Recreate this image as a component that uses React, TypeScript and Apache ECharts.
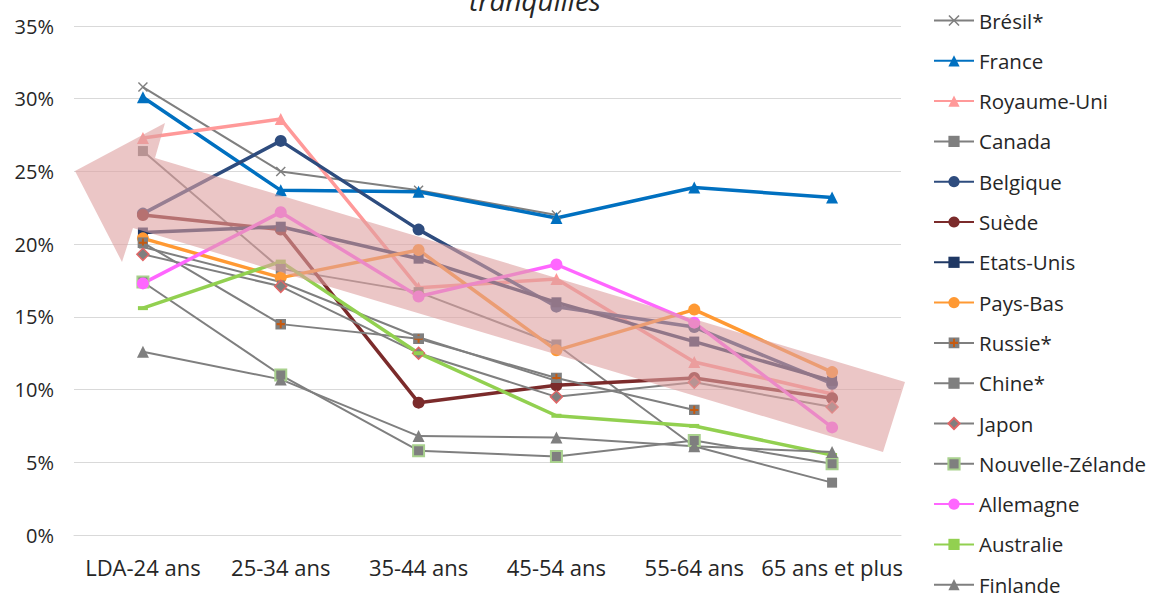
import React, { useEffect, useRef } from "react";
import * as echarts from "echarts";

const categories = ["LDA-24 ans", "25-34 ans", "35-44 ans", "45-54 ans", "55-64 ans", "65 ans et plus"];

const bresil = [30.8, 25.0, 23.7, 22.0, null, null];
const france = [30.1, 23.7, 23.6, 21.8, 23.9, 23.2];
const royaumeUni = [27.3, 28.6, 17.0, 17.6, 11.9, 9.7];
const canada = [26.4, 18.3, 16.7, 13.1, 6.1, 3.6];
const belgique = [22.1, 27.1, 21.0, 15.7, 14.3, 10.4];
const suede = [22.0, 21.0, 9.1, 10.3, 10.8, 9.4];
const etatsUnis = [20.8, 21.2, 19.0, 16.0, 13.3, 10.6];
const paysBas = [20.4, 17.7, 19.6, 12.7, 15.5, 11.2];
const russie = [20.1, 14.5, 13.5, 10.8, 8.6, null];
const chine = [19.8, 17.4, 13.6, 10.6, null, null];
const japon = [19.3, 17.1, 12.5, 9.5, 10.5, 8.8];
const nouvelleZelande = [17.4, 11.0, 5.8, 5.4, 6.5, 4.9];
const allemagne = [17.3, 22.2, 16.4, 18.6, 14.6, 7.4];
const australie = [15.6, 18.8, 12.5, 8.2, 7.5, 5.5];
const finlande = [12.6, 10.7, 6.8, 6.7, 6.1, 5.7];

const yMin = 0;
const yMax = 35;
const yStep = 5;

const titleText = "tranquilles";

// decorative arrow (annotation, in page pixels)
const ARROW_POINTS = [
  [75, 171],
  [165, 123],
  [155, 158],
  [905, 382],
  [883, 452],
  [133, 228],
  [122, 262],
];

const FONT = '"Open Sans", "DejaVu Sans", sans-serif';
const GRAY = "#7F7F7F";

const russieSvg =
  '<svg xmlns="http://www.w3.org/2000/svg" width="12" height="12" viewBox="0 0 12 12">' +
  '<rect x="0" y="0" width="12" height="12" fill="#7F7F7F"/>' +
  '<path d="M6 1.5V10.5M1.5 6H10.5" stroke="#C55A11" stroke-width="2.2"/></svg>';
const russieSymbol = "image://data:image/svg+xml;utf8," + encodeURIComponent(russieSvg);
const xSymbol = "path://M1,0 L5,4 L9,0 L10,1 L6,5 L10,9 L9,10 L5,6 L1,10 L0,9 L4,5 L0,1 Z";

type S = {
  name: string;
  data: (number | null)[];
  color: string;
  width: number;
  symbol: string;
  size: number | number[];
  border?: string;
  borderWidth?: number;
};

const seriesDefs: S[] = [
  { name: "Brésil*", data: bresil, color: GRAY, width: 2, symbol: xSymbol, size: 10 },
  { name: "France", data: france, color: "#0070C0", width: 3.5, symbol: "triangle", size: 12 },
  { name: "Royaume-Uni", data: royaumeUni, color: "#FF9999", width: 3.5, symbol: "triangle", size: 12 },
  { name: "Canada", data: canada, color: GRAY, width: 2, symbol: "rect", size: 10 },
  { name: "Belgique", data: belgique, color: "#2E4C7E", width: 3.5, symbol: "circle", size: 12 },
  { name: "Suède", data: suede, color: "#7B2B2B", width: 3.5, symbol: "circle", size: 12 },
  { name: "Etats-Unis", data: etatsUnis, color: "#1F3864", width: 3.5, symbol: "rect", size: 10 },
  { name: "Pays-Bas", data: paysBas, color: "#FF9933", width: 3.5, symbol: "circle", size: 12 },
  { name: "Russie*", data: russie, color: GRAY, width: 2, symbol: russieSymbol, size: 11 },
  { name: "Chine*", data: chine, color: GRAY, width: 2, symbol: "rect", size: [8, 3] },
  { name: "Japon", data: japon, color: GRAY, width: 2, symbol: "diamond", size: 12, border: "#E06666", borderWidth: 1.5 },
  { name: "Nouvelle-Zélande", data: nouvelleZelande, color: GRAY, width: 2, symbol: "rect", size: 11, border: "#A9D18E", borderWidth: 2 },
  { name: "Allemagne", data: allemagne, color: "#FF66FF", width: 3.5, symbol: "circle", size: 12 },
  { name: "Australie", data: australie, color: "#92D050", width: 3.5, symbol: "rect", size: [10, 4] },
  { name: "Finlande", data: finlande, color: GRAY, width: 2, symbol: "triangle", size: 12 },
];

export default function App() {
  const ref = useRef<HTMLDivElement>(null);

  useEffect(() => {
    if (!ref.current) return;
    const chart = echarts.init(ref.current, undefined, { renderer: "svg" });

    const series = seriesDefs.map((s) => ({
      name: s.name,
      type: "line",
      data: s.data,
      symbol: s.symbol,
      symbolSize: s.size,
      showSymbol: true,
      connectNulls: false,
      lineStyle: { color: s.color, width: s.width },
      itemStyle: {
        color: s.color,
        borderColor: s.border || s.color,
        borderWidth: s.borderWidth || 0,
      },
      emphasis: { disabled: true },
    }));

    chart.setOption({
      animation: false,
      backgroundColor: "#ffffff",
      grid: { left: 74, right: 251, top: 26, bottom: 58, containLabel: false },
      xAxis: {
        type: "category",
        data: categories,
        boundaryGap: true,
        axisLine: { show: true, lineStyle: { color: "#D9D9D9", width: 1 } },
        axisTick: { show: false },
        axisLabel: { color: "#262626", fontSize: 22, fontFamily: FONT, margin: 21, interval: 0 },
      },
      yAxis: {
        type: "value",
        min: yMin,
        max: yMax,
        interval: yStep,
        axisLine: { show: false },
        axisTick: { show: false },
        splitLine: { lineStyle: { color: "#D9D9D9", width: 1 } },
        axisLabel: {
          color: "#262626",
          fontSize: 20,
          fontFamily: FONT,
          margin: 20,
          formatter: (v: number) => `${v}%`,
        },
      },
      legend: {
        type: "plain",
        orient: "vertical",
        left: 933,
        top: 10,
        width: 215,
        height: 620,
        padding: 0,
        itemWidth: 40,
        itemHeight: 14,
        itemGap: 19.3,
        textStyle: { color: "#262626", fontSize: 20.5, fontFamily: FONT },
        data: seriesDefs.map((s) => s.name),
      },
      graphic: [
        {
          type: "polygon",
          z: 100,
          silent: true,
          shape: { points: ARROW_POINTS },
          style: { fill: "rgb(221,160,160)", opacity: 0.6 },
        },
        {
          type: "text",
          z: 100,
          x: 535,
          y: 0,
          style: {
            text: titleText,
            fontSize: 28,
            fontStyle: "italic",
            fontFamily: FONT,
            fill: "#262626",
            align: "center",
            verticalAlign: "middle",
          },
        },
      ],
      series,
    });

    return () => chart.dispose();
  }, []);

  return (
    <div
      ref={ref}
      style={{ position: "fixed", left: 0, top: 0, width: 1152, height: 593, background: "#fff" }}
    />
  );
}
